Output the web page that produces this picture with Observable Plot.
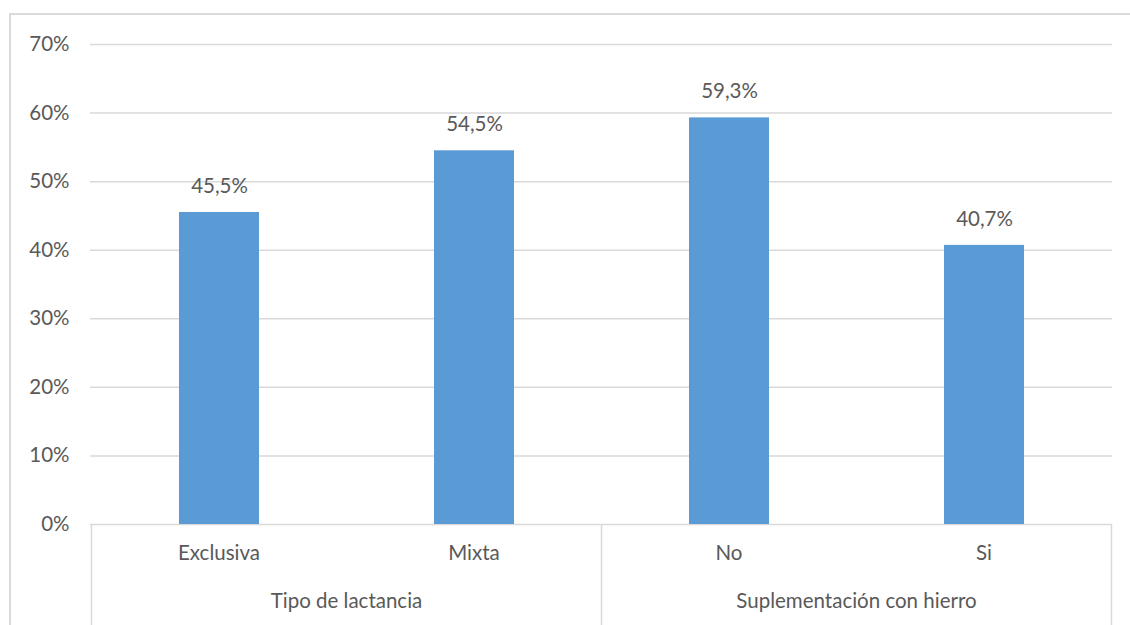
<!DOCTYPE html>
<html>
<head>
<meta charset="utf-8">
<script src="https://cdn.jsdelivr.net/npm/d3@7"></script>
<script src="https://cdn.jsdelivr.net/npm/@observablehq/plot@0.6"></script>
<style>
  html, body { margin: 0; padding: 0; background: #fff; overflow: hidden; width: 1130px; height: 625px; }
  #frame { position: absolute; left: 9px; top: 13px; width: 1200px; height: 700px; border: 2px solid #d9d9d9; box-sizing: border-box; }
  #chart { position: absolute; left: 0; top: 0; }
</style>
</head>
<body>
<div id="frame"></div>
<div id="chart"></div>
<script>
const categories = ["Exclusiva", "Mixta", "No", "Si"];
const groups = ["Tipo de lactancia", "Tipo de lactancia", "Suplementación con hierro", "Suplementación con hierro"];
const values = [45.5, 54.5, 59.3, 40.7];
const yTicks = [0, 10, 20, 30, 40, 50, 60, 70];

const data = categories.map((c, i) => ({category: c, group: groups[i], value: values[i]}));
const groupNames = [...new Set(groups)];
const groupData = groupNames.map(g => {
  const members = data.filter(d => d.group === g).map(d => d.category);
  return {group: g, first: members[0], last: members[members.length - 1]};
});

const W = 1130, H = 625;
const font = "Lato, 'Open Sans', sans-serif";
const fs = 20.5;
const textColor = "#595959";
const gridColor = "#d9d9d9";

function categoryAxis(index, scales, channels, dimensions) {
  const x = scales.x, bw = x.bandwidth(), step = x.step();
  const y0 = dimensions.height - dimensions.marginBottom;
  const g = d3.create("svg:g").attr("font-family", font).attr("fill", textColor);
  const seps = [];
  groupData.forEach(gd => {
    seps.push(x(gd.first) + bw / 2 - step / 2);
  });
  seps.push(x(groupData[groupData.length - 1].last) + bw / 2 + step / 2);
  g.selectAll("line.sep").data(seps).join("line")
    .attr("x1", d => d).attr("x2", d => d)
    .attr("y1", y0).attr("y2", dimensions.height + 10)
    .attr("stroke", gridColor).attr("stroke-width", 1.5);
  g.selectAll("text.cat").data(data).join("text")
    .attr("x", d => x(d.category) + bw / 2)
    .attr("y", y0 + 31)
    .attr("text-anchor", "middle").attr("dominant-baseline", "middle")
    .attr("font-size", fs)
    .text(d => d.category);
  g.selectAll("text.grp").data(groupData).join("text")
    .attr("x", d => (x(d.first) + x(d.last) + bw) / 2)
    .attr("y", y0 + 79)
    .attr("text-anchor", "middle").attr("dominant-baseline", "middle")
    .attr("font-size", fs)
    .text(d => d.group);
  return g.node();
}

const plot = Plot.plot({
  width: W,
  height: H,
  marginLeft: 90,
  marginRight: 18,
  marginTop: 44,
  marginBottom: 101,
  style: {fontFamily: font, fontSize: fs + "px", color: textColor, background: "transparent", overflow: "visible"},
  x: {domain: categories, paddingInner: 0.687, paddingOuter: 0.3435, axis: null},
  y: {domain: [0, 70], ticks: yTicks, axis: null},
  marks: [
    Plot.ruleY(yTicks, {stroke: gridColor, strokeWidth: 1.5, strokeOpacity: 1}),
    Plot.axisY({ticks: yTicks, tickSize: 0, tickPadding: 21, tickFormat: d => `${d}%`, label: null, fill: textColor, fontSize: fs}),
    Plot.barY(data, {x: "category", y: "value", fill: "#5B9BD5"}),
    Plot.text(data, {x: "category", y: "value", text: d => d.value.toFixed(1).replace(".", ",") + "%", dy: -26, fill: textColor, fontSize: fs}),
    categoryAxis
  ]
});
document.getElementById("chart").appendChild(plot);
</script>
</body>
</html>
